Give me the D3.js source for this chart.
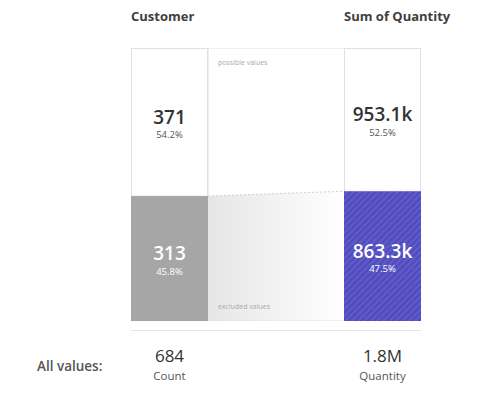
<!DOCTYPE html>
<html><head><meta charset="utf-8">
<script src="https://cdn.jsdelivr.net/npm/d3@7"></script>
<style>
html,body{margin:0;padding:0;background:#fff;}
svg{display:block;font-family:"Open Sans",sans-serif;}
</style></head>
<body><svg id="c" width="500" height="394"></svg>
<script>
const categories = ["Customer", "Sum of Quantity"];
const possibleValues = [371, 953100];
const excludedValues = [313, 863300];
const possibleLabels = ["371", "953.1k"];
const excludedLabels = ["313", "863.3k"];
const totalLabels = ["684", "1.8M"];
const totalNames = ["Count", "Quantity"];

(function () {
const svg = d3.select("#c");
const pTop = 48, pBottom = 321, pLeft = 131, pRight = 421;
const colW = 77;
const x = d3.scaleLinear().domain([0, 1]).range([pLeft, pRight]);
const colX = [x(0), x(1) - colW];
const y = d3.scaleLinear().domain([0, 1]).range([pBottom, pTop]);

const totals = possibleValues.map((v, i) => v + excludedValues[i]);
const exFrac = excludedValues.map((v, i) => v / totals[i]);
const pct = d3.format(".1%");

const defs = svg.append("defs");
const grad = defs.append("linearGradient").attr("id", "g").attr("x1", "0").attr("x2", "1").attr("y1", "0").attr("y2", "0");
grad.append("stop").attr("offset", "0").attr("stop-color", "#e6e6e6");
grad.append("stop").attr("offset", "1").attr("stop-color", "#ffffff");
const pat = defs.append("pattern").attr("id", "stripe").attr("patternUnits", "userSpaceOnUse")
  .attr("width", 4.5).attr("height", 4.5).attr("patternTransform", "rotate(45)");
pat.append("rect").attr("width", 4.5).attr("height", 4.5).attr("fill", "#5d59ca");
pat.append("rect").attr("width", 1.6).attr("height", 4.5).attr("fill", "#4c48b4");

const midL = colX[0] + colW, midR = colX[1];
svg.append("path")
  .attr("d", `M${midL},${y(exFrac[0])} L${midR},${y(exFrac[1])} L${midR},${pBottom} L${midL},${pBottom} Z`)
  .attr("fill", "url(#g)");
svg.append("line").attr("x1", midL).attr("y1", y(exFrac[0])).attr("x2", midR).attr("y2", y(exFrac[1]))
  .attr("stroke", "#cfcfcf").attr("stroke-width", 1).attr("stroke-dasharray", "2,2");
[pTop + 0.5, pBottom - 0.5].forEach(yy => {
  svg.append("line").attr("x1", midL).attr("x2", midR).attr("y1", yy).attr("y2", yy)
    .attr("stroke", "#e2e2e2").attr("stroke-dasharray", "1,1");
});

categories.forEach((c, i) => {
  const cx = colX[i];
  const ys = y(exFrac[i]);
  svg.append("rect").attr("x", cx + 0.5).attr("y", pTop + 0.5).attr("width", colW - 1).attr("height", ys - pTop - 0.5)
    .attr("fill", "#fff").attr("stroke", "#e0e0e0");
  svg.append("rect").attr("x", cx).attr("y", ys).attr("width", colW).attr("height", pBottom - ys)
    .attr("fill", i === 0 ? "#a6a6a6" : "url(#stripe)");
  const mx = cx + colW / 2;
  const mTop = (pTop + ys) / 2, mBot = (ys + pBottom) / 2;
  svg.append("text").attr("x", mx).attr("y", mTop + 1.5).attr("text-anchor", "middle")
    .attr("font-size", 19).attr("font-weight", 600).attr("fill", "#333").text(possibleLabels[i]);
  svg.append("text").attr("x", mx).attr("y", mTop + 16).attr("text-anchor", "middle")
    .attr("font-size", 9.5).attr("fill", "#555").text(pct(possibleValues[i] / totals[i]));
  svg.append("text").attr("x", mx).attr("y", mBot + 1.5).attr("text-anchor", "middle")
    .attr("font-size", 19).attr("font-weight", 600).attr("fill", "#fff").text(excludedLabels[i]);
  svg.append("text").attr("x", mx).attr("y", mBot + 16).attr("text-anchor", "middle")
    .attr("font-size", 9.5).attr("fill", "#fff").text(pct(excludedValues[i] / totals[i]));
  svg.append("text").attr("x", cx).attr("y", 21).attr("font-size", 13).attr("font-weight", 700)
    .attr("fill", "#404040").text(c);
  svg.append("text").attr("x", mx).attr("y", 362).attr("text-anchor", "middle")
    .attr("font-size", 17).attr("fill", "#333").text(totalLabels[i]);
  svg.append("text").attr("x", mx).attr("y", 380).attr("text-anchor", "middle")
    .attr("font-size", 11.5).attr("fill", "#555").text(totalNames[i]);
});

svg.append("line").attr("x1", midL).attr("x2", midL).attr("y1", pTop).attr("y2", y(exFrac[0])).attr("stroke", "#e0e0e0");

svg.append("text").attr("x", midL + 10).attr("y", 65).attr("font-size", 7).attr("fill", "#aaa").text("possible values");
svg.append("text").attr("x", midL + 10).attr("y", 309).attr("font-size", 7).attr("fill", "#aaa").text("excluded values");

svg.append("line").attr("x1", pLeft).attr("x2", pRight).attr("y1", 330.5).attr("y2", 330.5).attr("stroke", "#e6e6e6");
svg.append("text").attr("x", 37).attr("y", 371).attr("font-size", 13.5).attr("font-weight", 600)
  .attr("fill", "#555").text("All values:");
})();
</script></body></html>
